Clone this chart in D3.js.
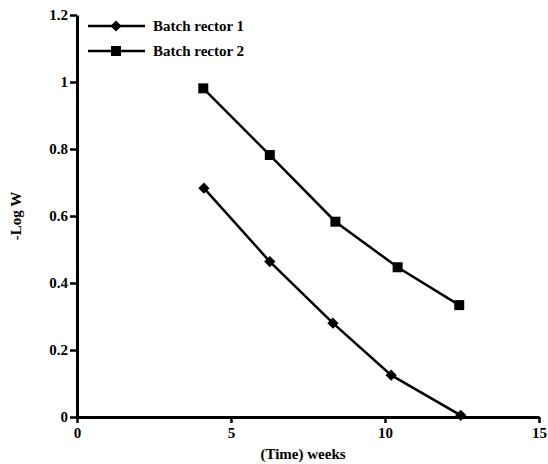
<!DOCTYPE html>
<html>
<head>
<meta charset="utf-8">
<script src="https://cdn.jsdelivr.net/npm/d3@7"></script>
<style>
  body { margin: 0; background: #fff; }
  text { font-family: "Liberation Serif", "Times New Roman", serif; font-weight: bold; fill: #000; }
</style>
</head>
<body>
<div id="chart"></div>
<script>
// data
const weeks1 = [4.12, 6.26, 8.31, 10.2, 12.46];
const logW1 = [0.683, 0.464, 0.28, 0.125, 0.005];
const weeks2 = [4.1, 6.26, 8.39, 10.41, 12.41];
const logW2 = [0.981, 0.782, 0.583, 0.447, 0.334];
const seriesNames = ["Batch rector 1", "Batch rector 2"];
const xTicks = [0, 5, 10, 15];
const yTicks = [0, 0.2, 0.4, 0.6, 0.8, 1, 1.2];

const width = 548, height = 464;
const margin = {left: 77, right: 9, top: 15, bottom: 47};

const svg = d3.select("#chart").append("svg")
  .attr("width", width)
  .attr("height", height);

const x = d3.scaleLinear().domain([0, 15]).range([margin.left, width - margin.right]);
const y = d3.scaleLinear().domain([0, 1.2]).range([height - margin.bottom, margin.top]);

const series = [
  {name: seriesNames[0], pts: weeks1.map((w, i) => [w, logW1[i]]), shape: d3.symbolDiamond2, size: 80},
  {name: seriesNames[1], pts: weeks2.map((w, i) => [w, logW2[i]]), shape: d3.symbolSquare, size: 100}
];

// axes
const xAxis = svg.append("g")
  .attr("transform", `translate(0,${y(0)})`)
  .call(d3.axisBottom(x).tickValues(xTicks).tickSize(6).tickPadding(2).tickSizeOuter(0));
const yAxis = svg.append("g")
  .attr("transform", `translate(${x(0)},0)`)
  .call(d3.axisLeft(y).tickValues(yTicks).tickSize(7).tickPadding(2).tickSizeOuter(0)
    .tickFormat(d => d3.format("")(+d.toFixed(1))));

[xAxis, yAxis].forEach(g => {
  g.select(".domain").attr("stroke", "#000").attr("stroke-width", 3);
  g.selectAll(".tick line").attr("stroke", "#000").attr("stroke-width", 2.5);
  g.selectAll(".tick text").style("font-size", "15px").attr("fill", "#000");
});
xAxis.selectAll(".tick text").attr("dy", "0.85em");

// lines and markers
const line = d3.line().x(d => x(d[0])).y(d => y(d[1]));
series.forEach(s => {
  svg.append("path")
    .datum(s.pts)
    .attr("d", line)
    .attr("fill", "none")
    .attr("stroke", "#000")
    .attr("stroke-width", 2.5);
  svg.selectAll(null)
    .data(s.pts)
    .enter().append("path")
    .attr("d", d3.symbol().type(s.shape).size(s.size))
    .attr("transform", d => `translate(${x(d[0])},${y(d[1])})`)
    .attr("fill", "#000");
});

// legend
const legend = svg.append("g");
series.forEach((s, i) => {
  const ly = 26 + i * 25;
  legend.append("line")
    .attr("x1", 88).attr("x2", 145)
    .attr("y1", ly).attr("y2", ly)
    .attr("stroke", "#000").attr("stroke-width", 2.5);
  legend.append("path")
    .attr("d", d3.symbol().type(s.shape).size(s.size))
    .attr("transform", `translate(116,${ly})`)
    .attr("fill", "#000");
  legend.append("text")
    .attr("x", 153).attr("y", ly + 5)
    .style("font-size", "15px")
    .text(s.name);
});

// axis titles
svg.append("text")
  .attr("x", (x(0) + x(15)) / 2 - 5)
  .attr("y", 459)
  .attr("text-anchor", "middle")
  .style("font-size", "15px")
  .text("(Time) weeks");

svg.append("text")
  .attr("transform", `translate(21,${y(0.6)}) rotate(-90)`)
  .attr("text-anchor", "middle")
  .style("font-size", "15px")
  .text("-Log W");
</script>
</body>
</html>
